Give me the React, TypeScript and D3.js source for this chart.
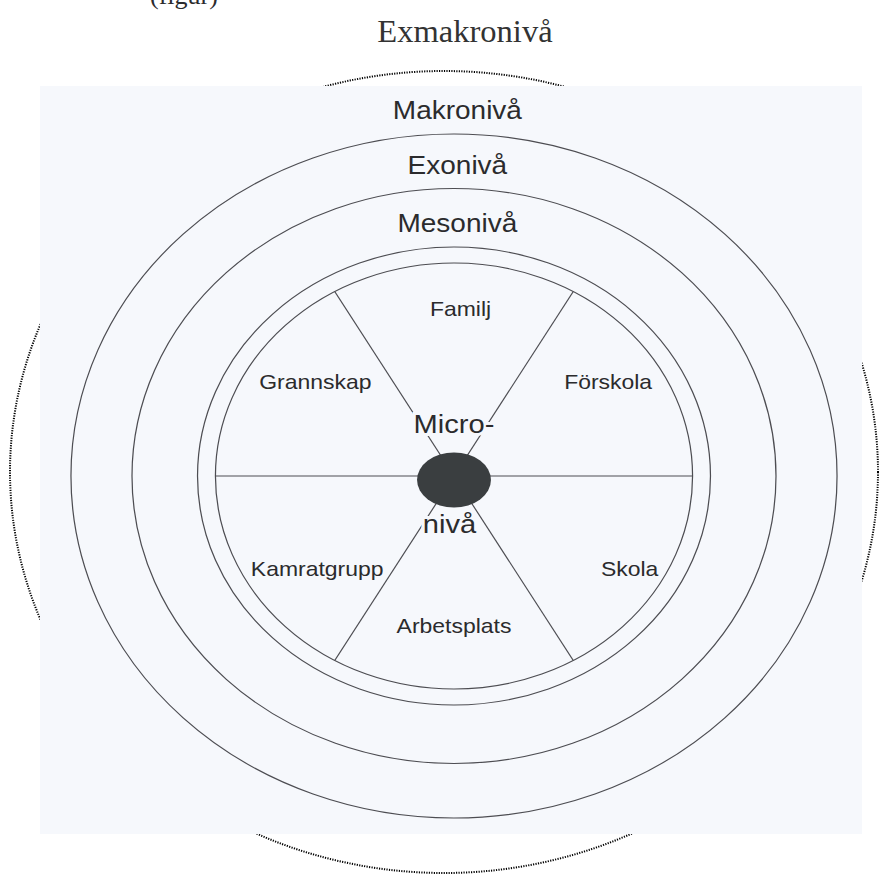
import React, { useEffect, useRef } from "react";
import * as d3 from "d3";

// Bronfenbrenner-style levels, outer to inner
const levelLabels = ["Makronivå", "Exonivå", "Mesonivå"];
const centerLabels = ["Micro-", "nivå"];
const sectorLabels = ["Familj", "Förskola", "Skola", "Arbetsplats", "Kamratgrupp", "Grannskap"];
const title = "Exmakronivå";
const cutLine = "(figur)";

export default function App() {
  const ref = useRef<SVGSVGElement>(null);

  useEffect(() => {
    const width = 879;
    const height = 875;
    const cx = 454;
    const cy = 476;
    const sx = 1.12; // scan is stretched horizontally
    const paper = "#f6f8fc";
    const ink = "#2b2b2d";
    const lineCol = "#4d4d52";

    // ring radii (vertical, before stretch): outer -> inner
    const ringR = [342, 287.5, 229, 213];
    // label angle (deg, clockwise from top) and radius per sector
    const sectorPos: [number, number][] = [
      [2, 168], [55.5, 167], [120.5, 182], [180, 150], [233, 153], [307.5, 156],
    ];

    const svg = d3.select(ref.current)
      .attr("width", width)
      .attr("height", height)
      .style("position", "absolute")
      .style("left", "0px")
      .style("top", "0px");
    svg.selectAll("*").remove();

    svg.append("rect").attr("width", width).attr("height", height).attr("fill", "#ffffff");

    // line of text above, only its lower edge shows
    svg.append("text")
      .attr("x", 150).attr("y", 4)
      .style("font-family", "'Liberation Serif', serif")
      .style("font-size", "26px")
      .attr("fill", ink)
      .text(cutLine);

    svg.append("text")
      .attr("x", 465).attr("y", 42)
      .attr("text-anchor", "middle")
      .style("font-family", "'Liberation Serif', serif")
      .style("font-size", "31px")
      .attr("fill", "#333")
      .attr("transform", "translate(465,0) scale(1.05,1) translate(-465,0)")
      .text(title);

    // outer dotted ellipse (mostly hidden behind the scanned sheet)
    svg.append("ellipse")
      .attr("cx", 444).attr("cy", 472)
      .attr("rx", 434).attr("ry", 401)
      .attr("fill", "none")
      .attr("stroke", "#000")
      .attr("stroke-width", 2)
      .attr("stroke-dasharray", "1.2 1.3");

    // scanned sheet
    svg.append("rect")
      .attr("x", 40).attr("y", 86)
      .attr("width", 822).attr("height", 748)
      .attr("fill", paper);

    const g = svg.append("g")
      .attr("transform", `translate(${cx},${cy}) scale(${sx},1)`);

    g.selectAll("circle.ring").data(ringR).join("circle")
      .attr("class", "ring")
      .attr("r", d => d)
      .attr("fill", "none")
      .attr("stroke", lineCol)
      .attr("stroke-width", 1.1);

    const inner = ringR[ringR.length - 1];
    const spokes = d3.range(6).map(i => d3.pointRadial(Math.PI / 2 + i * Math.PI / 3, inner));
    g.selectAll("line.spoke").data(spokes).join("line")
      .attr("class", "spoke")
      .attr("x1", 0).attr("y1", 0)
      .attr("x2", d => d[0]).attr("y2", d => d[1])
      .attr("stroke", lineCol)
      .attr("stroke-width", 1.1);

    // level labels sit just above their ring
    g.selectAll("text.level").data(levelLabels).join("text")
      .attr("class", "level")
      .attr("x", 3)
      .attr("y", (d, i) => -ringR[i] - 15)
      .attr("text-anchor", "middle")
      .style("font-family", "'Liberation Sans', Arial, sans-serif")
      .style("font-size", "25px")
      .attr("fill", ink)
      .text(d => d);

    g.selectAll("text.sector").data(sectorLabels).join("text")
      .attr("class", "sector")
      .attr("x", (d, i) => d3.pointRadial(sectorPos[i][0] * Math.PI / 180, sectorPos[i][1])[0])
      .attr("y", (d, i) => d3.pointRadial(sectorPos[i][0] * Math.PI / 180, sectorPos[i][1])[1] + 7.5)
      .attr("text-anchor", "middle")
      .style("font-family", "'Liberation Sans', Arial, sans-serif")
      .style("font-size", "20.5px")
      .attr("fill", ink)
      .text(d => d);

    g.append("ellipse")
      .attr("cx", 0).attr("cy", 4)
      .attr("rx", 33).attr("ry", 27.5)
      .attr("fill", "#3a3e40");

    g.selectAll("text.center").data(centerLabels).join("text")
      .attr("class", "center")
      .attr("x", (d, i) => (i === 0 ? 0 : -4))
      .attr("y", (d, i) => (i === 0 ? -43 : 57))
      .attr("text-anchor", "middle")
      .style("font-family", "'Liberation Sans', Arial, sans-serif")
      .style("font-size", "26px")
      .attr("fill", ink)
      .attr("stroke", paper)
      .attr("stroke-width", 6)
      .attr("paint-order", "stroke")
      .text(d => d);
  }, []);

  return <svg ref={ref}></svg>;
}
